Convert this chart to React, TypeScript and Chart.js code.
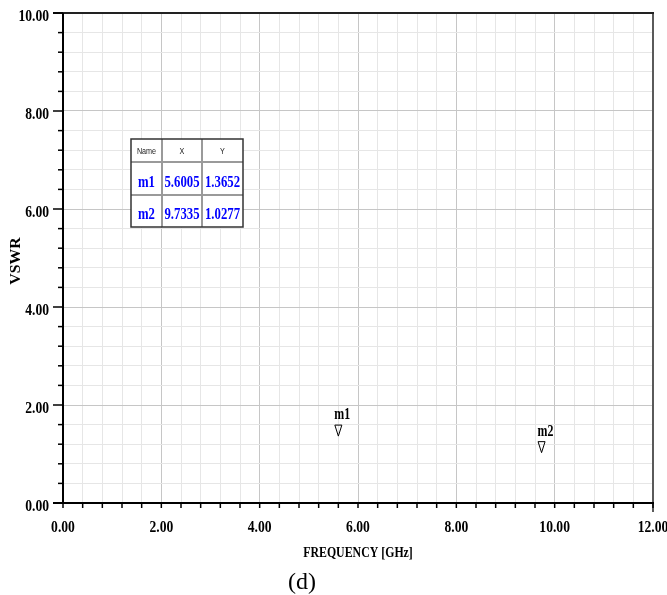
import React, { useEffect, useRef } from 'react';
import { Chart, registerables } from 'chart.js';

Chart.register(...registerables);

// ---- data ----
const markerNames = ['m1', 'm2'];
const markerFreqs = [5.6005, 9.7335];
const markerVswr = [1.3652, 1.0277];
const xMajorTicks = [0, 2, 4, 6, 8, 10, 12];
const yMajorTicks = [0, 2, 4, 6, 8, 10];
const minorDivisions = 5;
const tableHeaders = ['Name', 'X', 'Y'];
const xTitle = 'FREQUENCY [GHz]';
const yTitle = 'VSWR';
const caption = '(d)';

const isMajor = (v: number, majors: number[]) => majors.some((m) => Math.abs(m - v) < 1e-6);

// all tick positions (majors plus evenly spaced minor subdivisions between them)
const withMinors = (majors: number[]) => {
  const out: number[] = [];
  for (let i = 0; i < majors.length - 1; i++) {
    const a = majors[i];
    const b = majors[i + 1];
    for (let k = 0; k < minorDivisions; k++) out.push(a + ((b - a) * k) / minorDivisions);
  }
  out.push(majors[majors.length - 1]);
  return out;
};

const SERIF = '"Liberation Serif", "Times New Roman", serif';
const SANS = '"Liberation Sans", Arial, sans-serif';

function condText(
  ctx: CanvasRenderingContext2D,
  text: string,
  x: number,
  y: number,
  font: string,
  sx: number,
  align: CanvasTextAlign,
  color: string,
  rotate = 0
) {
  ctx.save();
  ctx.font = font;
  ctx.fillStyle = color;
  ctx.translate(x, y);
  if (rotate) ctx.rotate(rotate);
  ctx.scale(sx, 1);
  ctx.textAlign = align;
  ctx.textBaseline = 'middle';
  ctx.fillText(text, 0, 0);
  ctx.restore();
}

const hfssPlugin = {
  id: 'hfssDecor',
  afterDraw(chart: any) {
    const ctx: CanvasRenderingContext2D = chart.ctx;
    const { left, right, top, bottom } = chart.chartArea;
    const xs = chart.scales.x;
    const ys = chart.scales.y;

    ctx.save();
    // right border
    ctx.strokeStyle = '#5a5a5a';
    ctx.lineWidth = 2;
    ctx.beginPath();
    ctx.moveTo(right, top);
    ctx.lineTo(right, bottom + 9);
    ctx.stroke();
    // top border
    ctx.strokeStyle = '#222';
    ctx.beginPath();
    ctx.moveTo(left - 10, top);
    ctx.lineTo(right + 1, top);
    ctx.stroke();
    // axes
    ctx.strokeStyle = '#000';
    ctx.beginPath();
    ctx.moveTo(left, top);
    ctx.lineTo(left, bottom + 1);
    ctx.moveTo(left - 10, bottom);
    ctx.lineTo(right + 1, bottom);
    ctx.stroke();

    // y ticks
    ctx.lineWidth = 1.5;
    ys.ticks.forEach((t: any) => {
      const py = ys.getPixelForValue(t.value);
      const len = isMajor(t.value, yMajorTicks) ? 10 : 5;
      ctx.beginPath();
      ctx.moveTo(left - len, py);
      ctx.lineTo(left, py);
      ctx.stroke();
    });
    // x ticks
    xs.ticks.forEach((t: any) => {
      const px = xs.getPixelForValue(t.value);
      ctx.beginPath();
      ctx.moveTo(px, bottom);
      ctx.lineTo(px, bottom + 5);
      ctx.stroke();
    });
    ctx.restore();

    // tick labels
    const tickFont = `bold 17px ${SERIF}`;
    yMajorTicks.forEach((v) => {
      condText(ctx, v.toFixed(2), 49, ys.getPixelForValue(v) + 4, tickFont, 0.8, 'right', '#000');
    });
    xMajorTicks.forEach((v) => {
      condText(ctx, v.toFixed(2), xs.getPixelForValue(v), 528, tickFont, 0.8, 'center', '#000');
    });

    // axis titles
    condText(ctx, xTitle, 358, 553, `bold 15px ${SERIF}`, 0.79, 'center', '#000');
    condText(ctx, yTitle, 16, 261, `bold 15px ${SERIF}`, 1.05, 'center', '#000', -Math.PI / 2);
    // caption
    condText(ctx, caption, 302, 583, `24px ${SERIF}`, 1, 'center', '#000');

    // markers
    const meta = chart.getDatasetMeta(0);
    meta.data.forEach((pt: any, i: number) => {
      const px = pt.x;
      const py = pt.y;
      ctx.save();
      ctx.strokeStyle = '#000';
      ctx.lineWidth = 1;
      ctx.beginPath();
      ctx.moveTo(px - 3.5, py - 11);
      ctx.lineTo(px + 3.5, py - 11);
      ctx.lineTo(px, py);
      ctx.closePath();
      ctx.stroke();
      ctx.restore();
      condText(ctx, markerNames[i], px - 4, py - 21, `bold 17px ${SERIF}`, 0.7, 'left', '#000');
    });

    // marker table
    const tx = 131;
    const ty = 139;
    const colW = [31, 40, 41];
    const rowH = [23, 33, 32];
    const tw = colW.reduce((a, b) => a + b, 0);
    const th = rowH.reduce((a, b) => a + b, 0);
    ctx.save();
    ctx.fillStyle = '#fff';
    ctx.fillRect(tx, ty, tw, th);
    ctx.strokeStyle = '#9a9a9a';
    ctx.lineWidth = 2;
    ctx.beginPath();
    let cx = tx;
    for (let c = 0; c < colW.length - 1; c++) {
      cx += colW[c];
      ctx.moveTo(cx, ty);
      ctx.lineTo(cx, ty + th);
    }
    let ry = ty;
    for (let r = 0; r < rowH.length - 1; r++) {
      ry += rowH[r];
      ctx.moveTo(tx, ry);
      ctx.lineTo(tx + tw, ry);
    }
    ctx.stroke();
    ctx.strokeStyle = '#333';
    ctx.lineWidth = 1.5;
    ctx.strokeRect(tx, ty, tw, th);
    ctx.restore();

    const colCenters: number[] = [];
    let acc = tx;
    colW.forEach((w) => {
      colCenters.push(acc + w / 2);
      acc += w;
    });
    tableHeaders.forEach((h, c) => {
      condText(ctx, h, colCenters[c], ty + 13, `9px ${SANS}`, 0.8, 'center', '#222');
    });
    let rowTop = ty + rowH[0];
    markerNames.forEach((name, i) => {
      const cy = rowTop + rowH[i + 1] / 2 + 4;
      const vf = `bold 17px ${SERIF}`;
      condText(ctx, name, colCenters[0], cy, vf, 0.75, 'center', '#0000ff');
      condText(ctx, markerFreqs[i].toFixed(4), colCenters[1], cy, vf, 0.75, 'center', '#0000ff');
      condText(ctx, markerVswr[i].toFixed(4), colCenters[2], cy, vf, 0.75, 'center', '#0000ff');
      rowTop += rowH[i + 1];
    });
  },
};

export default function App() {
  const canvasRef = useRef<HTMLCanvasElement | null>(null);

  useEffect(() => {
    document.body.style.margin = '0';
    document.body.style.overflow = 'hidden';
    const canvas = canvasRef.current;
    if (!canvas) return;
    const gridColor = (majors: number[]) => (c: any) =>
      c.tick && isMajor(c.tick.value, majors) ? '#c6c6c6' : '#e6e6e6';

    const chart = new Chart(canvas, {
      type: 'scatter',
      data: {
        datasets: [
          {
            label: 'markers',
            data: markerFreqs.map((f, i) => ({ x: f, y: markerVswr[i] })),
            pointRadius: 0,
            showLine: false,
          },
        ],
      },
      options: {
        animation: false,
        responsive: false,
        devicePixelRatio: 1,
        layout: { padding: { top: 13, right: 14, left: 0, bottom: 0 } },
        plugins: {
          legend: { display: false },
          tooltip: { enabled: false },
        },
        scales: {
          x: {
            type: 'linear',
            min: 0,
            max: 12,
            ticks: { display: false },
            afterBuildTicks: (s: any) => {
              s.ticks = withMinors(xMajorTicks).map((v) => ({ value: v }));
            },
            grid: { color: gridColor(xMajorTicks), lineWidth: 1, drawTicks: false },
            border: { display: false },
            title: { display: false },
            afterFit: (s: any) => {
              s.height = 92;
            },
          },
          y: {
            type: 'linear',
            min: 0,
            max: 10,
            ticks: { display: false },
            afterBuildTicks: (s: any) => {
              s.ticks = withMinors(yMajorTicks).map((v) => ({ value: v }));
            },
            grid: { color: gridColor(yMajorTicks), lineWidth: 1, drawTicks: false },
            border: { display: false },
            title: { display: false },
            afterFit: (s: any) => {
              s.width = 63;
            },
          },
        },
      },
      plugins: [hfssPlugin],
    });
    return () => chart.destroy();
  }, []);

  return (
    <div style={{ width: 667, height: 595, background: '#fff' }}>
      <canvas ref={canvasRef} width={667} height={595} style={{ display: 'block' }} />
    </div>
  );
}
